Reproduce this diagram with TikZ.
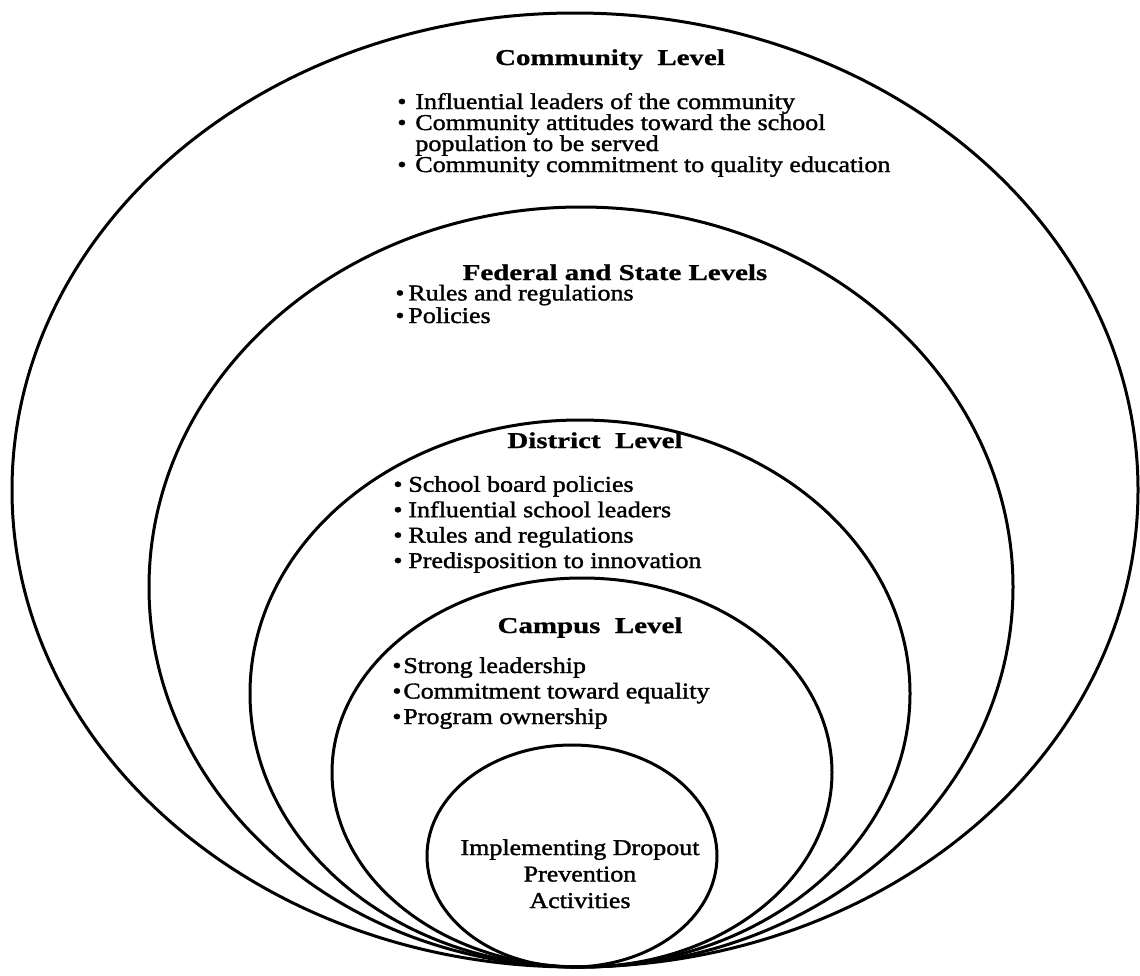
\documentclass[tikz,border=0pt]{standalone}
\usepackage{fontspec}
\setmainfont{Liberation Serif}[FakeStretch=1.15,FakeBold=1.5]
\newfontfamily\levelfont{Liberation Serif}[FakeStretch=1.28,FakeBold=1]
\usetikzlibrary{shapes.geometric}
\tikzstyle{level}=[draw, ellipse, line width=1.5pt, inner sep=0pt]
\tikzstyle{levelname}=[anchor=base, inner sep=0pt, font=\levelfont\fontsize{11.3}{13}\selectfont\bfseries]
\tikzset{points/.style={anchor=base west, inner sep=0pt, align=left, font=\fontsize{11.3}{#1}\selectfont}}
\newcommand{\itemdot}[1][7pt]{\makebox[#1][l]{\textbullet}}

\begin{document}
\begin{tikzpicture}[x=0.5pt, y=-0.5pt]

        \useasboundingbox (0,0) rectangle (1140,975);

        % the five levels, all touching at the bottom
        \node [level, minimum width=563pt, minimum height=477pt] (community) at (575,490) {};
        \node [level, minimum width=432pt, minimum height=380pt] (federal) at (581,587) {};
        \node [level, minimum width=330pt, minimum height=273.5pt] (district) at (580,693.5) {};
        \node [level, minimum width=250pt, minimum height=194.5pt] (campus) at (582,772.5) {};
        \node [level, minimum width=145pt, minimum height=111pt] (core) at (572,856) {};

        % lists sit on the baseline of their last line
        \node [levelname] (communityname) at (610,65) {Community\ \ Level};
        \node [points=10.5pt] (communitylist) at (397,172) {\itemdot[9pt]Influential leaders of the community\\
                \itemdot[9pt]Community attitudes toward the school\\
                \hspace*{9pt}population to be served\\
                \itemdot[9pt]Community commitment to quality education};

        \node [levelname] (federalname) at (615,280) {Federal\ and\ State\ Levels};
        \node [points=10pt] (federallist) at (395,323) {\itemdot[6.5pt]Rules and regulations\\
                \itemdot[6.5pt]Policies};

        \node [levelname] (districtname) at (595,448) {District\ \ Level};
        \node [points=12.7pt] (districtlist) at (393,568) {\itemdot[7.5pt]School board policies\\
                \itemdot[7.5pt]Influential school leaders\\
                \itemdot[7.5pt]Rules and regulations\\
                \itemdot[7.5pt]Predisposition to innovation};

        \node [levelname] (campusname) at (590,633) {Campus\ \ Level};
        \node [points=12.75pt] (campuslist) at (392,724) {\itemdot[5.5pt]Strong leadership\\
                \itemdot[5.5pt]Commitment toward equality\\
                \itemdot[5.5pt]Program ownership};

        \node [anchor=base, inner sep=0pt, align=center, font=\fontsize{11.3}{13.25}\selectfont] (coretext) at (580,908) {Implementing Dropout\\ Prevention\\ Activities};

\end{tikzpicture}
\end{document}
